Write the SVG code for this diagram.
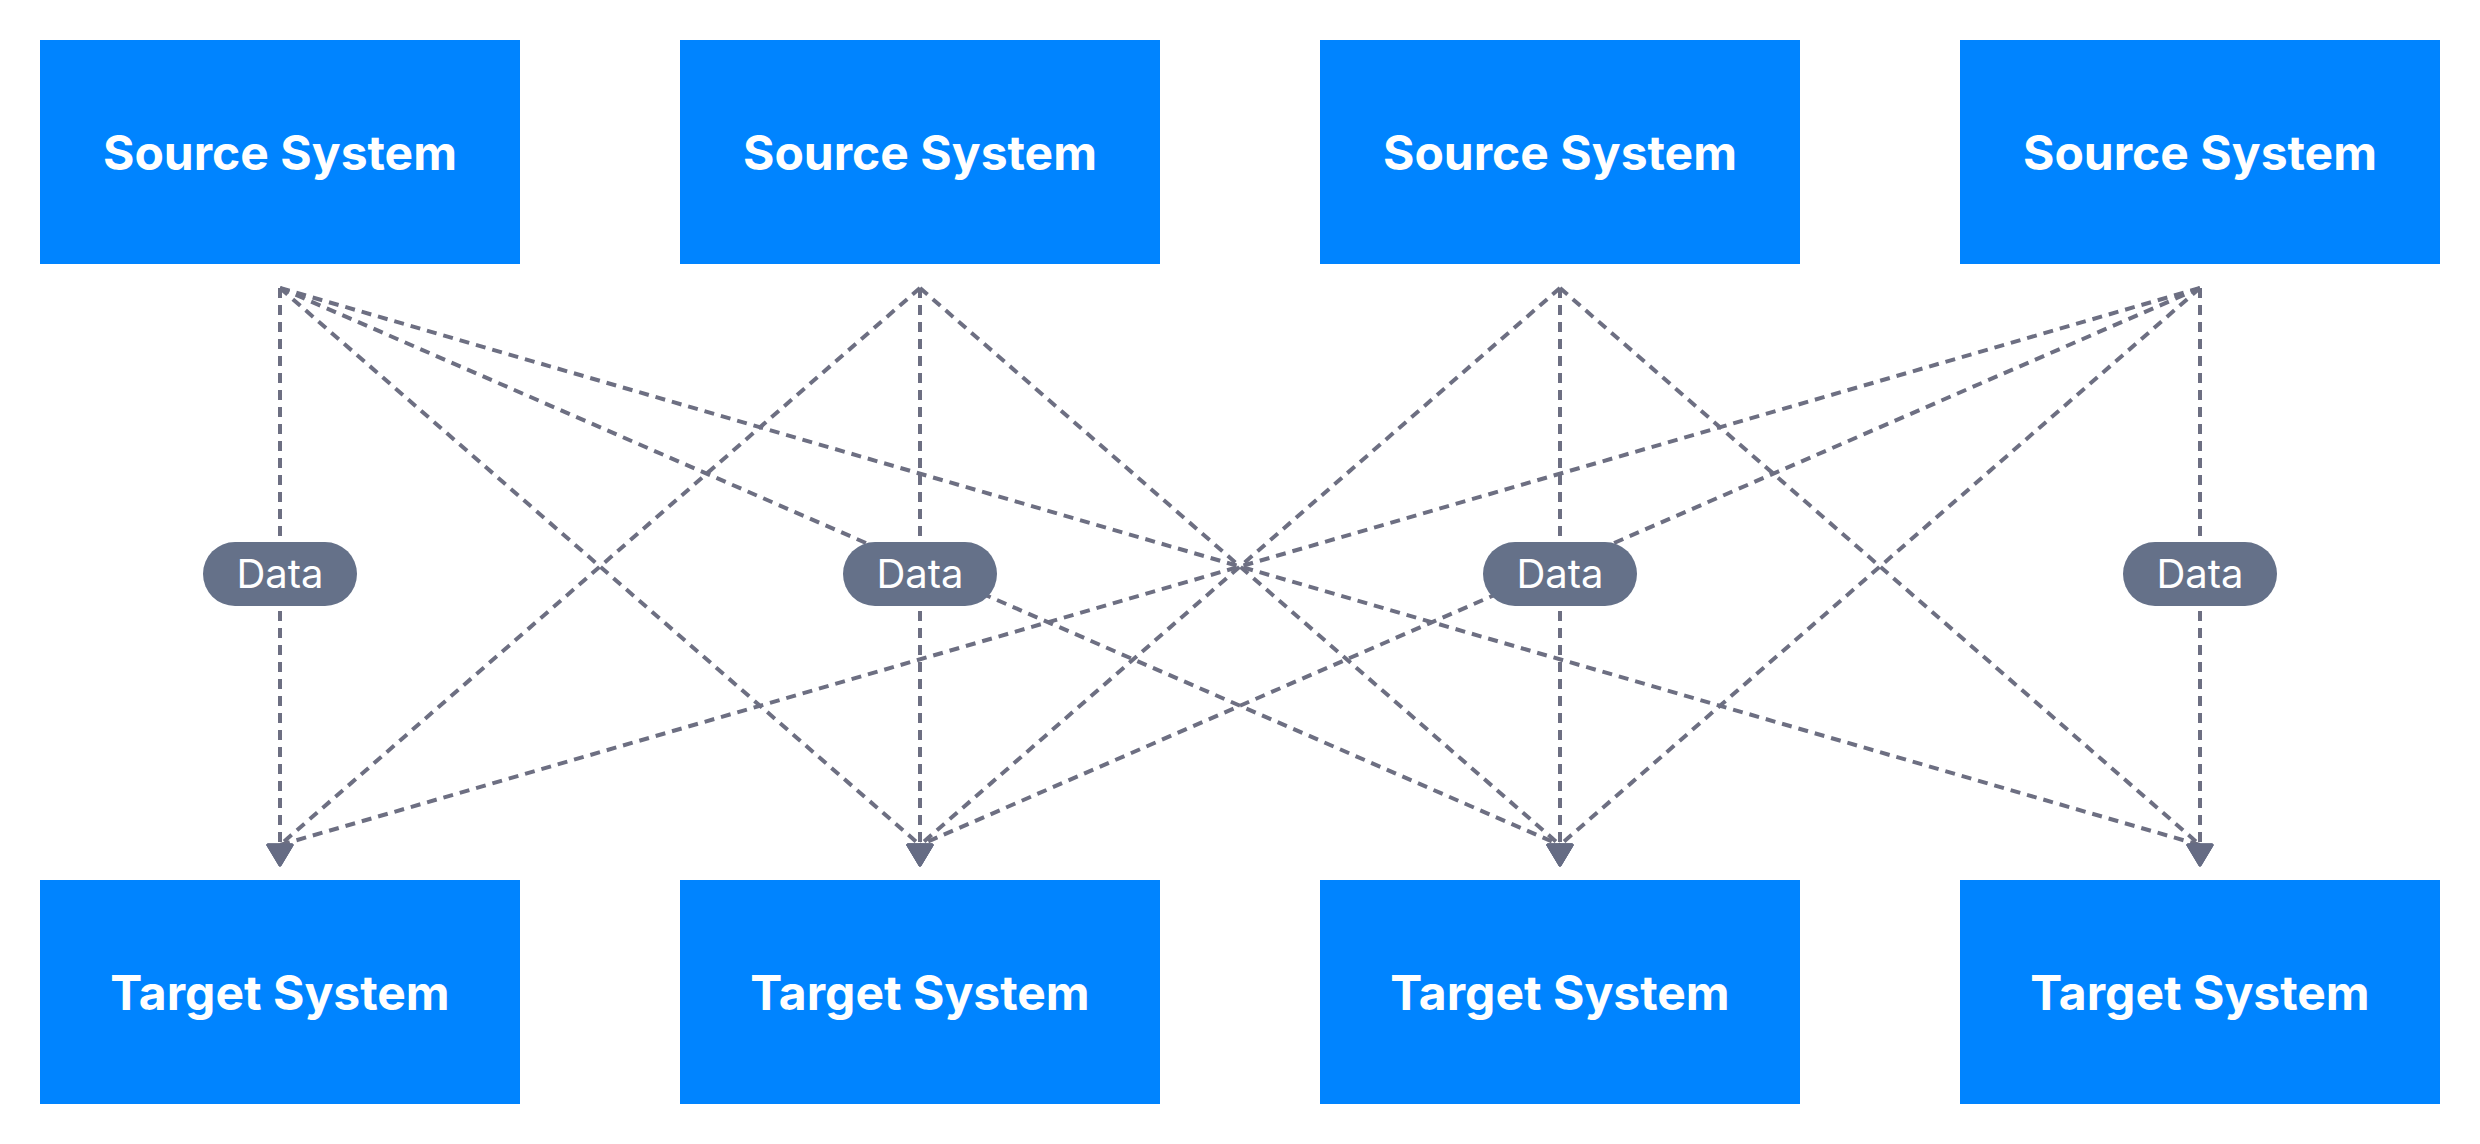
<svg xmlns="http://www.w3.org/2000/svg" width="2480" height="1144" viewBox="0 0 2480 1144">
  <style>
    .box { fill: #0084ff; }
    .title { font-family: Inter, "Liberation Sans", sans-serif; font-weight: 700; font-size: 48px; fill: #ffffff; text-anchor: middle; }
    .edge { fill: none; stroke: #6d6f82; stroke-width: 4; stroke-dasharray: 10 7; }
    .pill { fill: #657189; }
    .pill-text { font-family: Inter, "Liberation Sans", sans-serif; font-size: 40px; fill: #ffffff; text-anchor: middle; }
  </style>
  <defs>
    <marker id="arrow" viewBox="0 0 24 28" refX="2" refY="14" markerWidth="24" markerHeight="28" markerUnits="userSpaceOnUse" orient="90">
      <path d="M2,2 L22,14 L2,26 Z" fill="#666c84" stroke="#666c84" stroke-width="3" stroke-linejoin="round"/>
    </marker>
  </defs>
  <rect width="2480" height="1144" fill="#ffffff"/>

  <g id="connectors">
    <!-- from Source 1 -->
    <line class="edge" x1="280" y1="288" x2="280" y2="845" marker-end="url(#arrow)"/>
    <line class="edge" x1="280" y1="288" x2="920" y2="845" marker-end="url(#arrow)"/>
    <line class="edge" x1="280" y1="288" x2="1560" y2="845" marker-end="url(#arrow)"/>
    <line class="edge" x1="280" y1="288" x2="2200" y2="845" marker-end="url(#arrow)"/>
    <!-- from Source 2 -->
    <line class="edge" x1="920" y1="288" x2="280" y2="845" marker-end="url(#arrow)"/>
    <line class="edge" x1="920" y1="288" x2="920" y2="845" marker-end="url(#arrow)"/>
    <line class="edge" x1="920" y1="288" x2="1560" y2="845" marker-end="url(#arrow)"/>
    <!-- from Source 3 -->
    <line class="edge" x1="1560" y1="288" x2="920" y2="845" marker-end="url(#arrow)"/>
    <line class="edge" x1="1560" y1="288" x2="1560" y2="845" marker-end="url(#arrow)"/>
    <line class="edge" x1="1560" y1="288" x2="2200" y2="845" marker-end="url(#arrow)"/>
    <!-- from Source 4 -->
    <line class="edge" x1="2200" y1="288" x2="280" y2="845" marker-end="url(#arrow)"/>
    <line class="edge" x1="2200" y1="288" x2="920" y2="845" marker-end="url(#arrow)"/>
    <line class="edge" x1="2200" y1="288" x2="1560" y2="845" marker-end="url(#arrow)"/>
    <line class="edge" x1="2200" y1="288" x2="2200" y2="845" marker-end="url(#arrow)"/>

    <g id="label-1">
      <rect class="pill" x="203" y="542" width="154" height="64" rx="32"/>
      <text class="pill-text" x="280" y="588">Data</text>
    </g>
    <g id="label-2">
      <rect class="pill" x="843" y="542" width="154" height="64" rx="32"/>
      <text class="pill-text" x="920" y="588">Data</text>
    </g>
    <g id="label-3">
      <rect class="pill" x="1483" y="542" width="154" height="64" rx="32"/>
      <text class="pill-text" x="1560" y="588">Data</text>
    </g>
    <g id="label-4">
      <rect class="pill" x="2123" y="542" width="154" height="64" rx="32"/>
      <text class="pill-text" x="2200" y="588">Data</text>
    </g>
  </g>

  <g id="source-1"><rect class="box" x="40" y="40" width="480" height="224"/><text class="title" x="280" y="170">Source System</text></g>
  <g id="source-2"><rect class="box" x="680" y="40" width="480" height="224"/><text class="title" x="920" y="170">Source System</text></g>
  <g id="source-3"><rect class="box" x="1320" y="40" width="480" height="224"/><text class="title" x="1560" y="170">Source System</text></g>
  <g id="source-4"><rect class="box" x="1960" y="40" width="480" height="224"/><text class="title" x="2200" y="170">Source System</text></g>

  <g id="target-1"><rect class="box" x="40" y="880" width="480" height="224"/><text class="title" x="280" y="1010">Target System</text></g>
  <g id="target-2"><rect class="box" x="680" y="880" width="480" height="224"/><text class="title" x="920" y="1010">Target System</text></g>
  <g id="target-3"><rect class="box" x="1320" y="880" width="480" height="224"/><text class="title" x="1560" y="1010">Target System</text></g>
  <g id="target-4"><rect class="box" x="1960" y="880" width="480" height="224"/><text class="title" x="2200" y="1010">Target System</text></g>
</svg>
